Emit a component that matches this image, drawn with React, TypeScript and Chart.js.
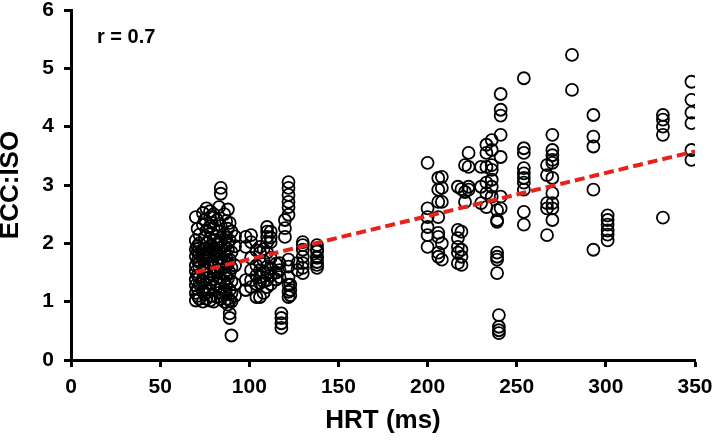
import { useEffect, useRef } from "react";
import { Chart, registerables } from "chart.js";

Chart.register(...registerables);

// HRT (ms) of each column of points
const hrtColumns = [
  70, 71, 72, 74, 75, 76, 78, 79, 80, 82, 83, 84, 86, 87, 88, 89, 90, 92,
  98, 101, 104, 106, 108, 110, 112, 115, 117, 118, 120, 122, 123, 127, 130, 138,
  200, 206, 208, 217, 219, 221, 223, 230, 233, 236, 239, 240, 241, 254, 267, 270,
  281, 293, 301, 332, 348,
];

// ECC:ISO values in each column
const eccIsoColumns = [
  [1.02, 1.15, 1.28, 1.38, 1.52, 1.62, 1.78, 1.9, 2.05, 2.45],
  [1.1, 1.22, 1.45, 1.7, 1.85, 1.95, 2.25],
  [1.05, 1.3, 1.42, 1.58, 1.68, 1.82, 1.92, 2.0, 2.15],
  [1.0, 1.18, 1.35, 1.5, 1.72, 1.88, 2.32, 2.52],
  [1.12, 1.25, 1.6, 1.78, 1.9, 2.1, 2.4],
  [1.05, 1.4, 1.55, 1.75, 1.85, 2.0, 2.22, 2.6],
  [1.02, 1.2, 1.32, 1.48, 1.65, 1.8, 1.95, 2.08, 2.3, 2.45, 2.55],
  [1.1, 1.38, 1.7, 1.9, 2.18, 2.35],
  [1.0, 1.25, 1.45, 1.6, 1.78, 1.92, 2.05, 2.25, 2.5],
  [1.08, 1.3, 1.52, 1.72, 1.85, 1.98, 2.12, 2.4],
  [1.15, 1.4, 1.62, 1.88, 2.0, 2.2, 2.62],
  [1.05, 1.22, 1.55, 1.75, 1.92, 2.05, 2.3, 2.85, 2.95],
  [1.0, 1.18, 1.35, 1.5, 1.68, 1.82, 1.95, 2.15, 2.5],
  [1.12, 1.28, 1.45, 1.6, 1.78, 2.1, 2.38],
  [0.95, 1.05, 1.4, 1.65, 1.9, 2.0, 2.25, 2.58],
  [0.72, 0.8, 1.02, 1.2, 1.5, 1.72, 2.05, 2.35],
  [0.42, 1.0, 1.15, 1.35, 1.58, 1.85, 2.2],
  [1.1, 1.3, 1.62, 1.95, 2.12],
  [1.2, 1.37, 1.94, 2.11],
  [1.25, 1.37, 1.54, 1.75, 2.02, 2.14],
  [1.08, 1.3, 1.45, 1.62, 1.88],
  [1.08, 1.32, 1.42, 1.54, 1.68, 1.84, 1.94],
  [1.15, 1.35, 1.5, 1.7, 1.9],
  [1.25, 1.37, 1.49, 1.6, 1.84, 2.02, 2.11, 2.2, 2.28],
  [1.3, 1.45, 1.58, 1.75, 2.02, 2.1, 2.2],
  [1.38, 1.5, 1.65],
  [1.42, 1.54, 1.66],
  [0.55, 0.63, 0.72, 0.8],
  [2.11, 2.26, 2.4],
  [1.08, 1.17, 1.29, 1.42, 1.6, 1.72, 2.49, 2.62, 2.71, 2.83, 2.95, 3.05],
  [1.11, 1.2, 1.29],
  [1.54, 1.66],
  [1.49, 1.58, 1.66, 1.77, 1.89, 1.97, 2.02],
  [1.58, 1.63, 1.68, 1.75, 1.77, 1.86, 1.89, 1.97],
  [3.38, 2.6, 2.45, 2.28, 2.14, 1.94],
  [3.12, 2.92, 2.71, 2.45, 2.18, 2.11, 1.84, 1.77],
  [3.14, 2.95, 2.71, 2.0, 1.72],
  [2.97, 2.23, 2.09, 1.94, 1.84, 1.66],
  [2.93, 2.2, 1.89, 1.77, 1.63],
  [3.34, 2.88, 2.71],
  [3.55, 3.31, 2.97, 2.92],
  [3.31, 2.97, 2.69],
  [3.69, 3.55, 3.31, 3.04, 2.86, 2.62],
  [3.77, 3.6, 3.34, 3.26, 3.09, 2.97, 2.8],
  [2.57, 2.4, 2.37, 1.84, 1.77, 1.72, 1.49],
  [0.77, 0.57, 0.51, 0.46],
  [4.56, 4.29, 4.19, 3.86, 3.48, 2.8, 2.6],
  [4.83, 3.63, 3.55, 3.29, 3.2, 3.12, 3.04, 2.92, 2.54, 2.32],
  [3.34, 3.17, 2.69, 2.6, 2.14],
  [3.86, 3.6, 3.51, 3.43, 3.38, 3.12, 2.86, 2.69, 2.6, 2.4],
  [5.23, 4.63],
  [4.2, 3.83, 3.66, 2.92, 1.89],
  [2.48, 2.4, 2.32, 2.22, 2.15, 2.05],
  [4.2, 4.12, 4.0, 3.86, 2.44],
  [4.77, 4.46, 4.24, 4.06, 3.6, 3.43],
];

// Regression line end points
const trendHrt = [70, 350];
const trendEccIso = [1.505, 3.577];

const xTickValues = [0, 50, 100, 150, 200, 250, 300, 350];
const yTickValues = [0, 1, 2, 3, 4, 5, 6];

const xTitle = "HRT (ms)";
const yTitle = "ECC:ISO";
const annotationText = "r = 0.7";

const FONT = '"Liberation Sans", Arial, sans-serif';

export default function App() {
  const canvasRef = useRef<HTMLCanvasElement | null>(null);

  useEffect(() => {
    const canvas = canvasRef.current;
    if (!canvas) return;

    const points = hrtColumns.flatMap((x, i) =>
      eccIsoColumns[i].map((y) => ({ x, y }))
    );
    const trend = trendHrt.map((x, i) => ({ x, y: trendEccIso[i] }));

    const annotationPlugin = {
      id: "annotationText",
      afterDraw(chart: any) {
        const { ctx, chartArea } = chart;
        ctx.save();
        ctx.font = `bold 20px ${FONT}`;
        ctx.fillStyle = "#000";
        ctx.textBaseline = "middle";
        ctx.textAlign = "left";
        ctx.fillText(annotationText, chartArea.left + 26, chartArea.top + 27);
        ctx.restore();
      },
    };

    const tickFont = { family: FONT, size: 21, weight: "bold" as const };
    const titleFont = { family: FONT, size: 26, weight: "bold" as const, lineHeight: 1 };

    const chart = new Chart(canvas, {
      type: "scatter",
      data: {
        datasets: [
          {
            type: "line",
            data: trend,
            borderColor: "#e8221b",
            borderWidth: 4,
            borderDash: [10, 5],
            pointRadius: 0,
            fill: false,
            order: 0,
          } as any,
          {
            type: "scatter",
            data: points,
            pointRadius: 6,
            pointHoverRadius: 6,
            pointBorderWidth: 1.8,
            pointBorderColor: "#000",
            pointBackgroundColor: "rgba(0,0,0,0)",
            order: 1,
          } as any,
        ],
      },
      options: {
        animation: false,
        responsive: false,
        maintainAspectRatio: false,
        layout: { padding: { top: 10, right: 21, bottom: 0, left: 0 } },
        plugins: {
          legend: { display: false },
          tooltip: { enabled: false },
        },
        scales: {
          x: {
            type: "linear",
            min: 0,
            max: 350,
            afterBuildTicks: (s: any) => {
              s.ticks = xTickValues.map((v) => ({ value: v }));
            },
            afterFit: (s: any) => {
              s.height = 81;
              s.paddingLeft = 0;
              s.paddingRight = 0;
            },
            border: { display: true, color: "#000", width: 3 },
            grid: {
              display: true,
              drawOnChartArea: false,
              drawTicks: true,
              tickLength: 7,
              tickColor: "#000",
              tickWidth: 3,
            },
            ticks: { color: "#000", font: tickFont, padding: 8, maxRotation: 0 },
            title: {
              display: true,
              text: xTitle,
              color: "#000",
              font: titleFont,
              padding: { top: 0, bottom: 7 },
            },
          },
          y: {
            type: "linear",
            min: 0,
            max: 6,
            afterBuildTicks: (s: any) => {
              s.ticks = yTickValues.map((v) => ({ value: v }));
            },
            afterFit: (s: any) => {
              s.width = 71;
              s.paddingTop = 0;
              s.paddingBottom = 0;
            },
            border: { display: true, color: "#000", width: 3 },
            grid: {
              display: true,
              drawOnChartArea: false,
              drawTicks: true,
              tickLength: 7,
              tickColor: "#000",
              tickWidth: 3,
            },
            ticks: { color: "#000", font: tickFont, padding: 10 },
            title: {
              display: true,
              text: yTitle,
              color: "#000",
              font: titleFont,
              padding: { top: -2, bottom: 0 },
            },
          },
        },
      },
      plugins: [annotationPlugin],
    });

    return () => {
      chart.destroy();
    };
  }, []);

  return (
    <div style={{ position: "fixed", left: 0, top: 0, width: 716, height: 441, background: "#fff" }}>
      <canvas ref={canvasRef} width={716} height={441} style={{ width: 716, height: 441 }} />
    </div>
  );
}
